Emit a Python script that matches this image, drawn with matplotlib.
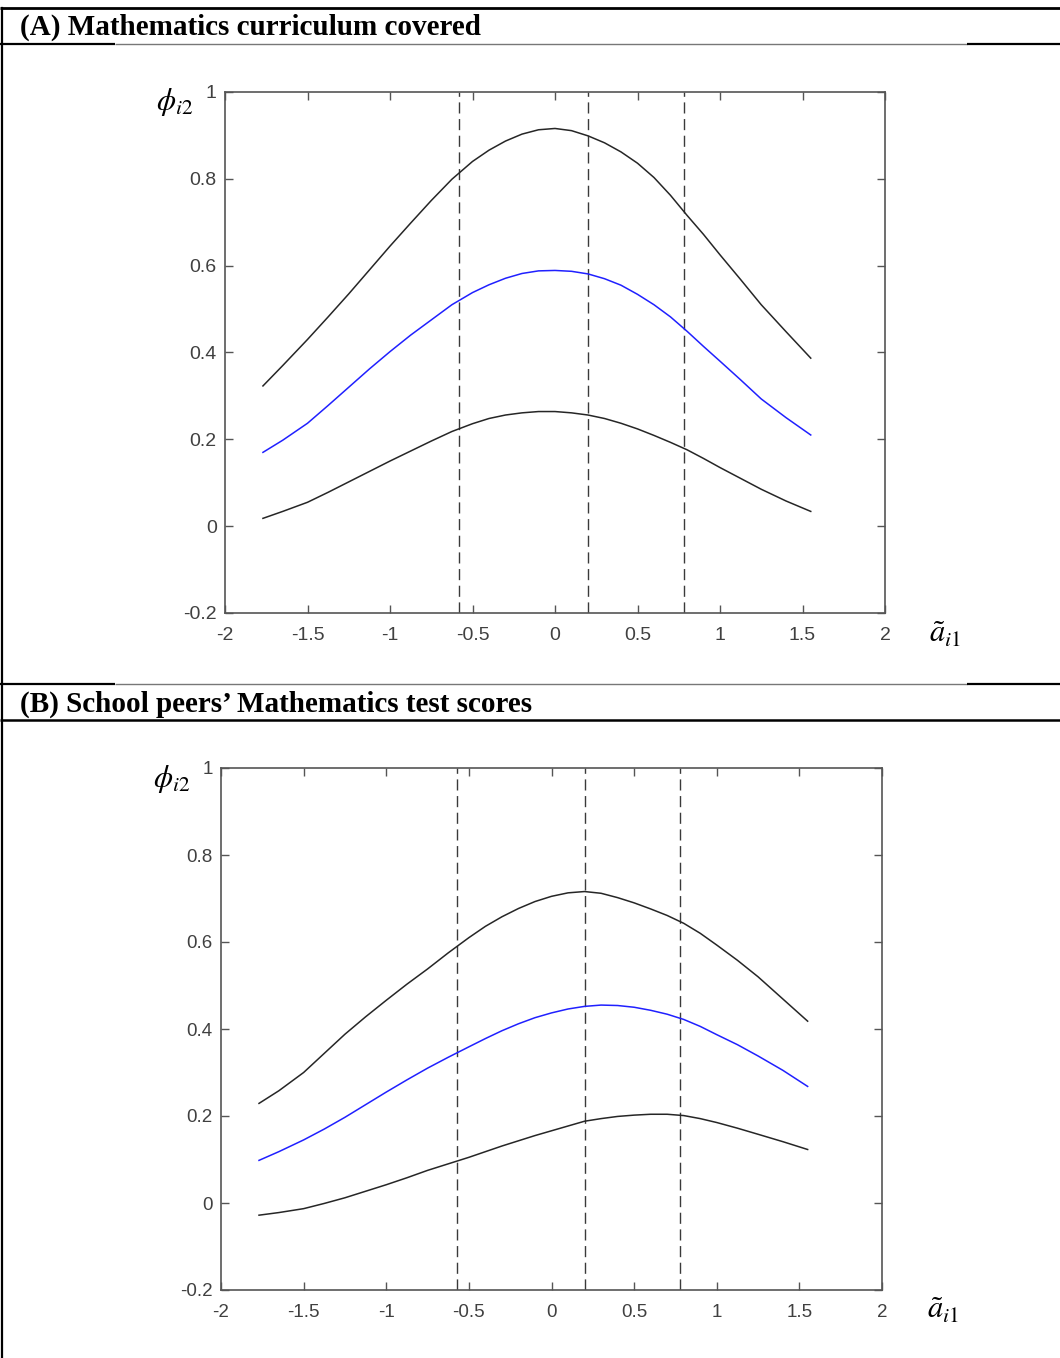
import numpy as np
import matplotlib.pyplot as plt
from matplotlib.lines import Line2D

plt.rcParams['mathtext.fontset'] = 'stix'

# panel titles
title_a = "(A) Mathematics curriculum covered"
title_b = "(B) School peers\u2019 Mathematics test scores"

# x positions of the read-off points (same for both panels)
x_pts = [-1.77, -1.65, -1.5, -1.375, -1.25, -1.125, -1.0, -0.875, -0.75, -0.625,
         -0.5, -0.4, -0.3, -0.2, -0.1, 0.0, 0.1, 0.2, 0.3, 0.4,
         0.5, 0.6, 0.7, 0.8, 0.9, 1.0, 1.125, 1.25, 1.4, 1.55]

# panel A curves (upper band, estimate, lower band)
a_upper = [0.323, 0.37, 0.43, 0.482, 0.535, 0.59, 0.645, 0.698, 0.75, 0.799,
           0.84, 0.866, 0.887, 0.903, 0.913, 0.916, 0.911, 0.899, 0.883, 0.862,
           0.836, 0.803, 0.762, 0.716, 0.672, 0.625, 0.568, 0.51, 0.448, 0.387]
a_mid = [0.17, 0.198, 0.237, 0.278, 0.32, 0.362, 0.402, 0.44, 0.475, 0.51,
         0.538, 0.556, 0.571, 0.582, 0.588, 0.589, 0.587, 0.581, 0.57, 0.555,
         0.534, 0.51, 0.482, 0.449, 0.414, 0.38, 0.337, 0.293, 0.25, 0.21]
a_lower = [0.018, 0.034, 0.055, 0.078, 0.102, 0.126, 0.15, 0.173, 0.196, 0.218,
           0.236, 0.248, 0.256, 0.261, 0.264, 0.264, 0.261, 0.256, 0.248, 0.237,
           0.224, 0.209, 0.193, 0.176, 0.156, 0.135, 0.11, 0.085, 0.058, 0.034]

# panel B curves
b_upper = [0.229, 0.258, 0.30, 0.344, 0.388, 0.428, 0.466, 0.503, 0.538, 0.575,
           0.61, 0.636, 0.658, 0.677, 0.693, 0.705, 0.713, 0.716, 0.712, 0.702,
           0.69, 0.676, 0.661, 0.643, 0.62, 0.593, 0.558, 0.52, 0.469, 0.418]
b_mid = [0.098, 0.118, 0.145, 0.17, 0.197, 0.226, 0.255, 0.283, 0.31, 0.335,
         0.359, 0.378, 0.396, 0.412, 0.426, 0.437, 0.446, 0.452, 0.455, 0.454,
         0.45, 0.443, 0.434, 0.422, 0.406, 0.387, 0.364, 0.338, 0.305, 0.268]
b_lower = [-0.028, -0.022, -0.013, -0.001, 0.012, 0.027, 0.042, 0.058, 0.075, 0.09,
           0.105, 0.118, 0.131, 0.143, 0.155, 0.166, 0.177, 0.188, 0.194, 0.199,
           0.202, 0.204, 0.204, 0.201, 0.194, 0.185, 0.172, 0.158, 0.141, 0.123]

# dashed reference lines
vlines_a = [-0.58, 0.2, 0.78]
vlines_b = [-0.57, 0.2, 0.78]

xticks = [-2, -1.5, -1, -0.5, 0, 0.5, 1, 1.5, 2]
xticklabels = ["-2", "-1.5", "-1", "-0.5", "0", "0.5", "1", "1.5", "2"]
yticks = [-0.2, 0, 0.2, 0.4, 0.6, 0.8, 1]
yticklabels = ["-0.2", "0", "0.2", "0.4", "0.6", "0.8", "1"]

W, H = 1060, 1358
fig = plt.figure(figsize=(W / 100, H / 100), dpi=100)


def fy(py):
    return 1 - py / H


def fx(px):
    return px / W


def hline(py, x0, x1, lw, color="black"):
    fig.add_artist(Line2D([fx(x0), fx(x1)], [fy(py), fy(py)], lw=lw, color=color,
                          transform=fig.transFigure, solid_capstyle="butt"))


# table-like frame
hline(8, 0, W, 2.0)
hline(44, 0, 115, 1.6)
hline(44, 115, 967, 1.0, "#777777")
hline(44, 967, W, 1.6)
hline(684, 0, 115, 1.6)
hline(684, 115, 967, 1.0, "#777777")
hline(684, 967, W, 1.6)
hline(720, 0, W, 1.8)
fig.add_artist(Line2D([fx(2), fx(2)], [fy(8), 0], lw=1.6, color="black",
                      transform=fig.transFigure))

fig.text(fx(20), fy(27), title_a, fontsize=21, fontweight="bold",
         family="Liberation Serif", va="center", ha="left")
fig.text(fx(20), fy(704), title_b, fontsize=21, fontweight="bold",
         family="Liberation Serif", va="center", ha="left")


def draw_panel(rect, xs, up, mid, lo, vls, ylab_xy, xlab_xy, tick_fs):
    ax = fig.add_axes(rect)
    for v in vls:
        ax.axvline(v, color="#3a3a3a", lw=1.0, dashes=(8, 4))
    ax.plot(xs, up, color="#262626", lw=1.1)
    ax.plot(xs, mid, color="#2020ff", lw=1.1)
    ax.plot(xs, lo, color="#262626", lw=1.1)
    ax.set_xlim(-2, 2)
    ax.set_ylim(-0.2, 1)
    ax.set_xticks(xticks)
    ax.set_xticklabels(xticklabels)
    ax.set_yticks(yticks)
    ax.set_yticklabels(yticklabels)
    ax.tick_params(direction="in", length=6, width=1.0, color="#555555",
                   top=True, right=True, labelsize=tick_fs, labelcolor="#404040")
    ax.tick_params(axis="x", pad=10)
    ax.tick_params(axis="y", pad=6)
    for s in ax.spines.values():
        s.set_color("#555555")
        s.set_linewidth(1.2)
    for t in ax.get_xticklabels() + ax.get_yticklabels():
        t.set_family("Liberation Sans")
    fig.text(fx(ylab_xy[0]), fy(ylab_xy[1]), r"$\phi_{i2}$", fontsize=22,
             ha="center", va="center")
    fig.text(fx(xlab_xy[0]), fy(xlab_xy[1]), r"$\tilde{a}_{i1}$", fontsize=22,
             ha="center", va="center")
    return ax


draw_panel([fx(225), fy(613), fx(885) - fx(225), fy(92) - fy(613)],
           x_pts, a_upper, a_mid, a_lower, vlines_a, (175, 102), (945, 634), 14)
draw_panel([fx(221), fy(1290), fx(882) - fx(221), fy(768) - fy(1290)],
           x_pts, b_upper, b_mid, b_lower, vlines_b, (172, 779), (943, 1310), 13.5)

fig.savefig("out.png", dpi=100)
